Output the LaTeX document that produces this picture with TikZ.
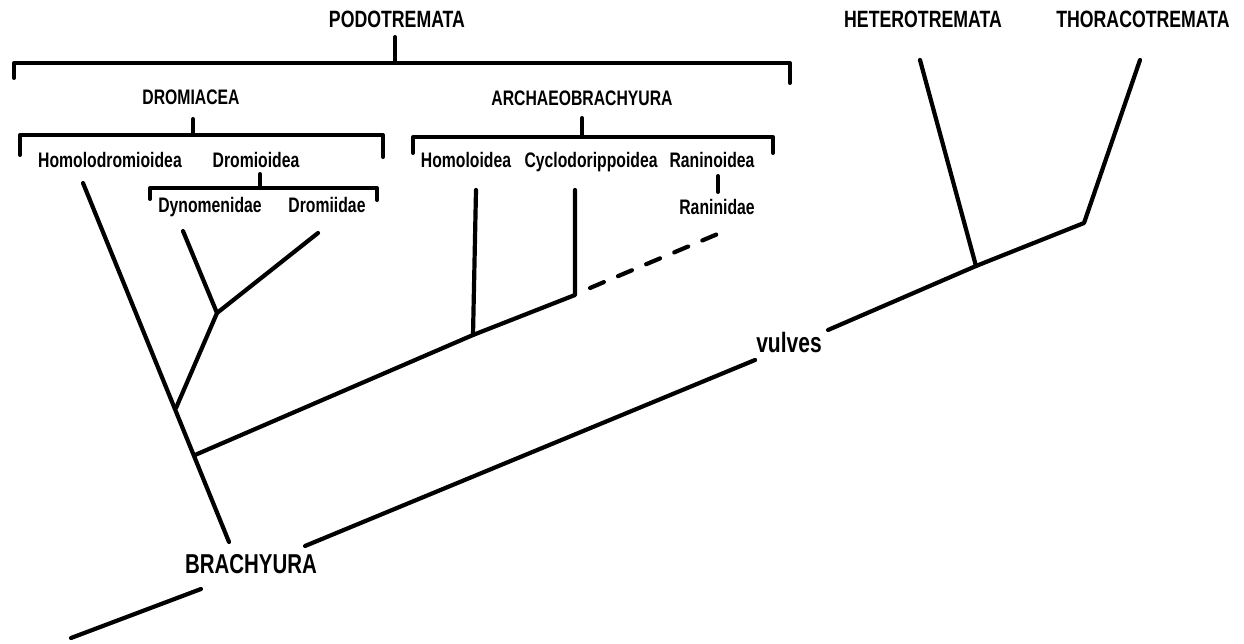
\documentclass[tikz,border=0pt]{standalone}
\usepackage{fontspec}
\setmainfont[FakeStretch=0.75]{Liberation Sans}
\begin{document}
\begin{tikzpicture}[x=1pt,y=-1pt,
  branch/.style={line width=4.2pt, line cap=round, line join=round},
  brkt/.style={line width=4pt, line cap=round, line join=round},
  dashbranch/.style={branch, dash pattern=on 15pt off 15.5pt},
  lab/.style={anchor=base, inner sep=0pt},
  topcap/.style={lab, font=\bfseries\fontsize{23.6}{25}\selectfont},
  midcap/.style={lab, font=\bfseries\fontsize{21}{23}\selectfont},
  taxon/.style={lab, font=\bfseries\fontsize{21}{23}\selectfont},
  rootlab/.style={lab, font=\bfseries\fontsize{27.3}{29}\selectfont},
  charlab/.style={lab, font=\bfseries\fontsize{28}{30}\selectfont}]
\useasboundingbox[fill=white] (0,0) rectangle (1244,644);

% ---- labels ----
\node[topcap] (podo) at (397,28) {PODOTREMATA};
\node[topcap] (hetero) at (923,28) {HETEROTREMATA};
\node[topcap] (thoraco) at (1143,28) {THORACOTREMATA};
\node[midcap] (dromiacea) at (191,105) {DROMIACEA};
\node[midcap] (archaeo) at (582,106) {ARCHAEOBRACHYURA};
\node[taxon] (homolodr) at (110,168) {Homolodromioidea};
\node[taxon] (dromioid) at (256,168) {Dromioidea};
\node[taxon] (dynom) at (210,213) {Dynomenidae};
\node[taxon] (dromiid) at (327,213) {Dromiidae};
\node[taxon] (homoloid) at (466,168) {Homoloidea};
\node[taxon] (cyclo) at (591,168) {Cyclodorippoidea};
\node[taxon] (raninoid) at (712,168) {Raninoidea};
\node[taxon] (raninid) at (717,215) {Raninidae};
\node[rootlab] (brachyura) at (251,573) {BRACHYURA};
\node[charlab] (vulves) at (789,352) {vulves};

% ---- tree coordinates ----
\coordinate (r0) at (71,638);
\coordinate (r1) at (201,589);
\coordinate (r2) at (305,546);
\coordinate (v1) at (755,360);
\coordinate (v2) at (828,330);
\coordinate (jHet) at (976,266);
\coordinate (jTho) at (1084,223);
\coordinate (tHet) at (920,60);
\coordinate (tTho) at (1140,60);

\coordinate (tHom) at (83,183);
\coordinate (jDro) at (176,408);
\coordinate (jArc) at (195,455);
\coordinate (bHom) at (229,542);
\coordinate (jDyn) at (217,313);
\coordinate (tDyn) at (183,231);
\coordinate (tDrm) at (318,233);

\coordinate (jHoml) at (473,335);
\coordinate (tHoml) at (476,190);
\coordinate (jCyc) at (575,295);
\coordinate (tCyc) at (575,190);
\coordinate (dA) at (590,288);
\coordinate (dB) at (720,233);

\coordinate (ranA) at (718,176);
\coordinate (ranB) at (718,192);

% ---- main lineage ----
\draw[branch] (r0) -- (r1);
\draw[branch] (r2) -- (v1);
\draw[branch] (v2) -- (jHet) -- (jTho) -- (tTho);
\draw[branch] (jHet) -- (tHet);

% ---- podotremata ----
\draw[branch] (tHom) -- (bHom);
\draw[branch] (jDro) -- (jDyn) -- (tDrm);
\draw[branch] (jDyn) -- (tDyn);
\draw[branch] (jArc) -- (jHoml) -- (jCyc) -- (tCyc);
\draw[branch] (jHoml) -- (tHoml);
\draw[dashbranch] (dA) -- (dB);

% ---- brackets ----
\draw[brkt] (14,78) -- (14,63) -- (790,63) -- (790,83);
\draw[brkt] (395,37) -- (395,63);

\draw[brkt] (20,155) -- (20,135) -- (383,135) -- (383,157);
\draw[brkt] (193,119) -- (193,135);

\draw[brkt] (150,199) -- (150,188) -- (377,188) -- (377,200);
\draw[brkt] (260,174) -- (260,188);

\draw[brkt] (413,153) -- (413,137) -- (773,137) -- (773,153);
\draw[brkt] (582,118) -- (582,137);

\draw[brkt] (ranA) -- (ranB);
\end{tikzpicture}
\end{document}
